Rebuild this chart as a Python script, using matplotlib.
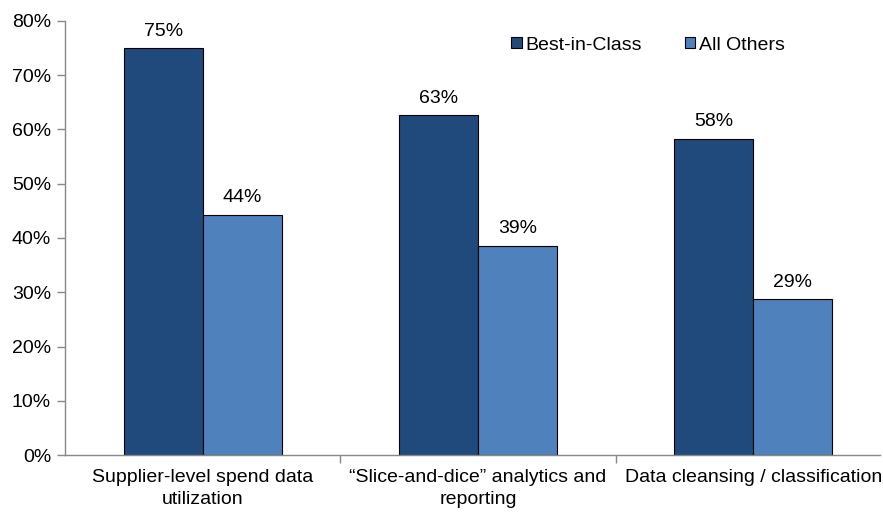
import numpy as np
import matplotlib.pyplot as plt
from matplotlib.ticker import PercentFormatter

plt.rcParams['font.family'] = ['Liberation Sans', 'DejaVu Sans']

categories = ["Supplier-level spend data\nutilization",
              "\u201cSlice-and-dice\u201d analytics and\nreporting",
              "Data cleansing / classification"]
best_in_class = [75.0, 62.6, 58.3]
all_others = [44.3, 38.6, 28.7]
series_names = ["Best-in-Class", "All Others"]

dark = "#204A7C"
light = "#4F81BD"

fig = plt.figure(figsize=(8.83, 5.12), dpi=100)
ax = fig.add_axes([65 / 883, 1 - 455 / 512, 815 / 883, 434 / 512])

x = np.arange(len(categories))
w = 0.287
b1 = ax.bar(x - w / 2, best_in_class, w, color=dark, edgecolor="black", linewidth=0.8,
            label=series_names[0])
b2 = ax.bar(x + w / 2, all_others, w, color=light, edgecolor="black", linewidth=0.8,
            label=series_names[1])

for bars, vals in [(b1, best_in_class), (b2, all_others)]:
    for r, v in zip(bars, vals):
        ax.annotate(f"{v:.0f}%", (r.get_x() + r.get_width() / 2, v),
                    xytext=(0, 6), textcoords="offset points",
                    ha="center", va="bottom", fontsize=14)

# the last category is cut a little short, as in the original
ax.set_xlim(-0.5, 2.46)
ax.set_ylim(0, 80)
ax.set_yticks(np.arange(0, 81, 10))
ax.yaxis.set_major_formatter(PercentFormatter(decimals=0))
ax.tick_params(axis="y", labelsize=14, length=6, color="#888888", width=1, pad=4)

# category boundaries get the ticks, labels sit at the centres
ax.set_xticks([0.5, 1.5])
ax.set_xticklabels([])
ax.tick_params(axis="x", length=6, color="#888888", width=1)
for xi, lab in zip(x, categories):
    ax.text(xi, -2.6, lab, ha="center", va="top", fontsize=14, linespacing=1.4,
            transform=ax.transData)

for s in ["top", "right"]:
    ax.spines[s].set_visible(False)
for s in ["left", "bottom"]:
    ax.spines[s].set_color("#888888")
    ax.spines[s].set_linewidth(1)

leg = ax.legend(ncol=2, loc="center", bbox_to_anchor=(648 / 883, 1 - 45 / 512),
                bbox_transform=fig.transFigure, frameon=False, fontsize=14,
                handlelength=0.55, handleheight=0.55, handletextpad=0.2,
                columnspacing=2.2)

fig.savefig("out.png", dpi=100)
